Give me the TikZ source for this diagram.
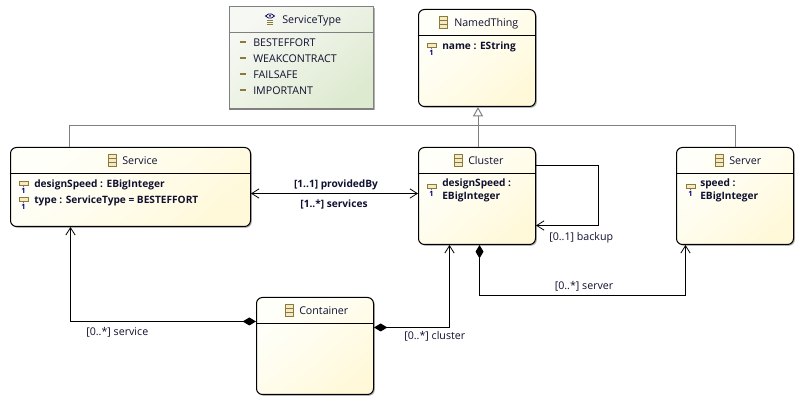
\documentclass[tikz,border=0pt]{standalone}
\usepackage{fontspec}
\setmainfont{Open Sans}
\usetikzlibrary{arrows.meta,shadows,calc}
\definecolor{iconc}{HTML}{8C7A3C}
\definecolor{iconf}{HTML}{F4EBC4}
\definecolor{txtc}{HTML}{101030}
\definecolor{genc}{HTML}{808080}
\definecolor{clsa}{HTML}{FFFFFA}
\definecolor{clsb}{HTML}{FFF9DA}
\definecolor{enma}{HTML}{F6F8F3}
\definecolor{enmb}{HTML}{DEEAD0}
\tikzset{
 x=0.75pt,y=-0.75pt,
 boxbase/.style={rectangle,inner sep=0pt,drop shadow={shadow xshift=1pt,shadow yshift=-1pt,fill=black,opacity=.3}},
 classbox/.style={boxbase,draw=black,line width=0.75pt,rounded corners=4.5pt,top color=clsa,bottom color=clsb,middle color=clsa!55!clsb,shading angle=40},
 enumbox/.style={boxbase,draw=genc,line width=0.9pt,top color=enma,bottom color=enmb,middle color=enma!55!enmb,shading angle=40},
 lbl/.style={inner sep=0pt,anchor=base west,font=\fontsize{8pt}{9pt}\selectfont,text=txtc},
 blbl/.style={lbl,font=\fontsize{7.6pt}{9pt}\selectfont\bfseries},
 conn/.style={draw=black,line width=0.75pt},
 openend/.style={-{Straight Barb[length=5.5pt,width=7pt,line width=0.6pt]}},
 openboth/.style={{Straight Barb[length=5.5pt,width=7pt,line width=0.6pt]}-{Straight Barb[length=5.5pt,width=7pt,line width=0.6pt]}},
 compos/.style={{Diamond[length=10pt,width=6pt,fill=black]}-{Straight Barb[length=5.5pt,width=7pt,line width=0.6pt]}},
 gen/.style={draw=genc,line width=0.75pt},
 gentip/.style={-{Triangle[open,length=7pt,width=7.5pt,fill=white]}},
 classicon/.pic={
  \draw[iconc,fill=iconf,line width=0.7pt] (-4,-6) rectangle (4,6);
  \draw[iconc,line width=0.7pt] (-4,-2) -- (4,-2) (-4,2) -- (4,2);
 },
 attricon/.pic={
  \draw[iconc,fill=iconf,line width=0.7pt] (-4.5,-3) rectangle (4.5,1);
  \draw[iconc,line width=0.6pt] (0,1) -- (0,3);
  \node[inner sep=0pt,font=\fontsize{5.5pt}{6pt}\selectfont\bfseries,text=blue!50!black] at (0,6.5) {1};
 },
 enumicon/.pic={
  \draw[blue!35!black,line width=0.55pt] (-4.5,-3) -- (-1.5,-5) -- (1.5,-5) -- (4.5,-3) -- (1.5,-1) -- (-1.5,-1) -- cycle;
  \fill[blue!35!black] (0,-3) circle (1);
  \draw[iconc,line width=0.7pt] (-3,1) -- (3,1) (-3,3) -- (3,3) (-3,5) -- (3,5);
 },
 litdash/.pic={\draw[iconc,line width=1.1pt] (-3,0) -- (3,0);},
}
\begin{document}
\begin{tikzpicture}
\useasboundingbox[fill=white] (0,0) rectangle (801,409);

% boxes
\node[enumbox,minimum width=108pt,minimum height=76.9pt] (st) at (301.5,57.7) {};
\node[classbox,minimum width=87.75pt,minimum height=72.75pt] (nt) at (477,58) {};
\node[classbox,minimum width=180pt,minimum height=59.25pt] (sv) at (130.5,187) {};
\node[classbox,minimum width=87.75pt,minimum height=72.75pt] (cl) at (477,196) {};
\node[classbox,minimum width=87.75pt,minimum height=72.75pt] (sr) at (735,196) {};
\node[classbox,minimum width=87.75pt,minimum height=72.75pt] (co) at (315,346) {};

% header rules
\draw[genc,line width=0.75pt] (st.west |- 0,32.5) -- (st.east |- 0,32.5);
\draw[black,line width=0.75pt] (nt.west |- 0,35.5) -- (nt.east |- 0,35.5);
\draw[black,line width=0.75pt] (sv.west |- 0,173.5) -- (sv.east |- 0,173.5);
\draw[black,line width=0.75pt] (cl.west |- 0,173.5) -- (cl.east |- 0,173.5);
\draw[black,line width=0.75pt] (sr.west |- 0,173.5) -- (sr.east |- 0,173.5);
\draw[black,line width=0.75pt] (co.west |- 0,323.5) -- (co.east |- 0,323.5);

% titles
\pic at (270,19) {enumicon};
\node[lbl] (stt) at (282,24) {ServiceType};
\pic at (443,22) {classicon};
\node[lbl] (ntt) at (454,27) {NamedThing};
\pic at (112,160) {classicon};
\node[lbl] (svt) at (122,165) {Service};
\pic at (458,160) {classicon};
\node[lbl] (clt) at (468,165) {Cluster};
\pic at (719,160) {classicon};
\node[lbl] (srt) at (729,165) {Server};
\pic at (289,310) {classicon};
\node[lbl] (cot) at (299,315) {Container};

% literals
\pic at (242.5,42) {litdash};
\node[lbl] (l1) at (253,47) {BESTEFFORT};
\pic at (242.5,58) {litdash};
\node[lbl] (l2) at (253,63) {WEAKCONTRACT};
\pic at (242.5,74) {litdash};
\node[lbl] (l3) at (253,79) {FAILSAFE};
\pic at (242.5,90) {litdash};
\node[lbl] (l4) at (253,95) {IMPORTANT};

% attributes
\pic at (431.5,46) {attricon};
\node[blbl] (a1) at (442,50) {name : EString};
\pic at (23.5,184) {attricon};
\node[blbl] (a2) at (34,188) {designSpeed : EBigInteger};
\pic at (23.5,200) {attricon};
\node[blbl] (a3) at (34,204) {type : ServiceType = BESTEFFORT};
\pic at (431.5,187) {attricon};
\node[blbl] (a4) at (442,187) {designSpeed :};
\node[blbl] (a5) at (442,200) {EBigInteger};
\pic at (690.5,187) {attricon};
\node[blbl] (a6) at (700,187) {speed :};
\node[blbl] (a7) at (700,200) {EBigInteger};

% generalisations
\coordinate (genbar) at (478,125.5);
\draw[gen] (sv.north -| 69.5,0) |- (genbar);
\draw[gen] (sr.north -| 735.5,0) |- (genbar);
\draw[gen,gentip] (cl.north -| 478,0) -- (nt.south -| 478,0);

% associations
\draw[conn,openboth] (sv.east |- 0,193.5) -- (cl.west |- 0,193.5);
\node[blbl,anchor=base] (pb) at (336,188) {[1..1] providedBy};
\node[blbl,anchor=base] (se) at (334,208) {[1..*] services};

\coordinate (bk1) at (598.5,165.5);
\coordinate (bk2) at (598.5,225.5);
\draw[conn,openend] (cl.east |- bk1) -- (bk1) -- (bk2) -- (cl.east |- bk2);
\node[lbl] (bkl) at (549,241) {[0..1] backup};

\coordinate (sr1) at (479.5,295.5);
\coordinate (sr2) at (685.5,295.5);
\draw[conn,compos] (cl.south -| sr1) -- (sr1) -- (sr2) -- (sr.south -| sr2);
\node[lbl] (srl) at (554.5,290) {[0..*] server};

\coordinate (ser1) at (70.5,321.5);
\draw[conn,compos] (co.west |- ser1) -- (ser1) -- (sv.south -| ser1);
\node[lbl] (serl) at (86,336) {[0..*] service};

\coordinate (clu1) at (449.5,327.5);
\draw[conn,compos] (co.east |- clu1) -- (clu1) -- (cl.south -| clu1);
\node[lbl] (clul) at (404,340) {[0..*] cluster};
\end{tikzpicture}
\end{document}
